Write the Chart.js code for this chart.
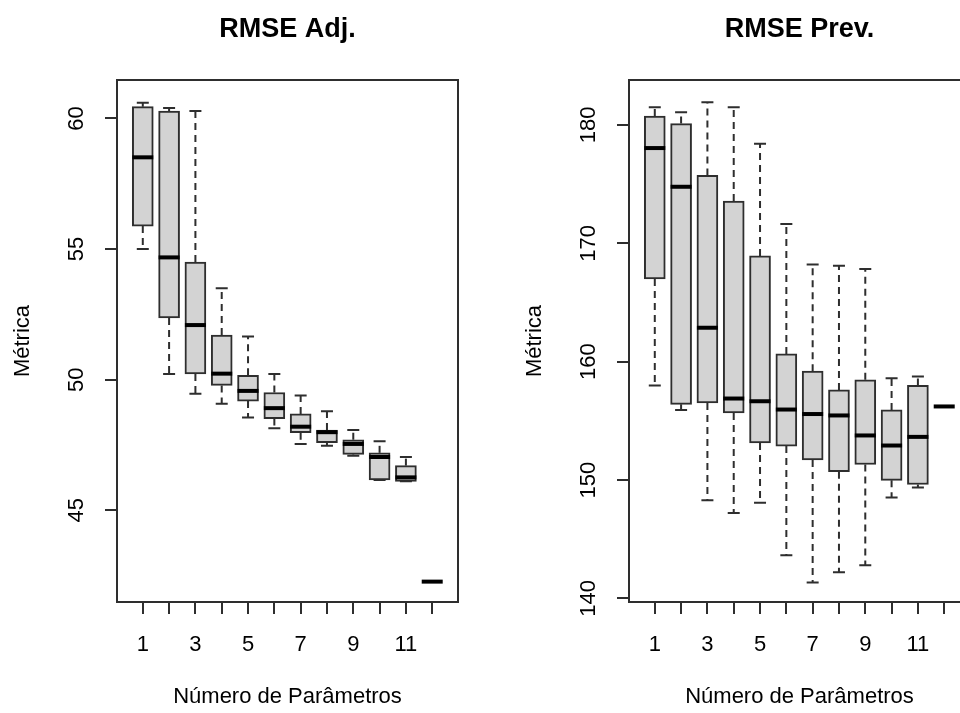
<!DOCTYPE html>
<html>
<head>
<meta charset="utf-8">
<script src="https://cdn.jsdelivr.net/npm/chart.js@4.4.1/dist/chart.umd.min.js"></script>
<style>
  html, body { margin: 0; padding: 0; background: #fff; overflow: hidden; }
  #wrap { position: relative; width: 960px; height: 713px; overflow: hidden; }
  canvas { position: absolute; top: 0; }
</style>
</head>
<body>
<div id="wrap">
  <canvas id="adj" width="512" height="713" style="left:0"></canvas>
  <canvas id="prev" width="512" height="713" style="left:512px"></canvas>
</div>
<script>
// number of parameters (boxes)
const categories = [1, 2, 3, 4, 5, 6, 7, 8, 9, 10, 11, 12];
const xTickLabels = ['1', '', '3', '', '5', '', '7', '', '9', '', '11', ''];

// RMSE Adj.
const adjMin = [55.00, 50.22, 49.46, 49.08, 48.55, 48.14, 47.54, 47.47, 47.09, 46.16, 46.11, 42.27];
const adjQ1  = [55.88, 52.36, 50.22, 49.78, 49.18, 48.51, 47.97, 47.59, 47.14, 46.16, 46.11, 42.27];
const adjMed = [58.51, 54.68, 52.09, 50.23, 49.57, 48.91, 48.20, 47.99, 47.54, 47.04, 46.26, 42.27];
const adjQ3  = [60.45, 60.28, 54.50, 51.71, 50.17, 49.51, 48.69, 48.07, 47.70, 47.20, 46.71, 42.27];
const adjMax = [60.60, 60.40, 60.28, 53.50, 51.65, 50.22, 49.39, 48.79, 48.07, 47.64, 47.04, 42.27];
const adjYTicks = [45, 50, 55, 60];

// RMSE Prev.
const prevMin = [158.00, 155.93, 148.29, 147.21, 148.08, 143.65, 141.34, 142.22, 142.80, 148.52, 149.37, 156.22];
const prevQ1  = [166.99, 156.40, 156.51, 155.67, 153.13, 152.87, 151.70, 150.71, 151.32, 149.98, 149.63, 156.22];
const prevMed = [178.05, 174.78, 162.87, 156.89, 156.66, 155.96, 155.58, 155.46, 153.77, 152.92, 153.65, 156.22];
const prevQ3  = [180.76, 180.12, 175.74, 173.58, 168.94, 160.66, 159.20, 157.62, 158.47, 155.93, 158.00, 156.22];
const prevMax = [181.49, 181.08, 181.93, 181.49, 178.42, 171.63, 168.21, 168.10, 167.83, 158.61, 158.76, 156.22];
const prevYTicks = [140, 150, 160, 170, 180];

const lineColor = '#2e2e2e';
Chart.defaults.font.family = "'Liberation Sans', Arial, sans-serif";
Chart.defaults.color = '#000';

// whiskers, caps, medians and the frame round the plot
const boxExtras = {
  id: 'boxExtras',
  afterDatasetsDraw(chart) {
    const st = chart.data.datasets[0].stats;
    const x = chart.scales.x, y = chart.scales.y, ctx = chart.ctx;
    const boxHalf = 10.5, capHalf = 6;
    ctx.save();
    ctx.strokeStyle = lineColor;
    ctx.lineWidth = 2;
    categories.forEach((c, i) => {
      const px = x.getPixelForValue(c);
      const yMin = y.getPixelForValue(st.min[i]), yMax = y.getPixelForValue(st.max[i]);
      const yQ1 = y.getPixelForValue(st.q1[i]), yQ3 = y.getPixelForValue(st.q3[i]);
      ctx.setLineDash([7, 5]);
      ctx.beginPath();
      ctx.moveTo(px, yQ3); ctx.lineTo(px, yMax);
      ctx.moveTo(px, yQ1); ctx.lineTo(px, yMin);
      ctx.stroke();
      ctx.setLineDash([]);
      if (st.max[i] !== st.min[i]) {
        ctx.beginPath();
        ctx.moveTo(px - capHalf, yMax); ctx.lineTo(px + capHalf, yMax);
        ctx.moveTo(px - capHalf, yMin); ctx.lineTo(px + capHalf, yMin);
        ctx.stroke();
      }
    });
    ctx.strokeStyle = '#000';
    ctx.lineWidth = 4;
    categories.forEach((c, i) => {
      const px = x.getPixelForValue(c);
      const ym = y.getPixelForValue(st.med[i]);
      ctx.beginPath();
      ctx.moveTo(px - boxHalf, ym); ctx.lineTo(px + boxHalf, ym);
      ctx.stroke();
    });
    const a = chart.chartArea;
    ctx.strokeStyle = lineColor;
    ctx.lineWidth = 2;
    ctx.strokeRect(a.left, a.top, a.right - a.left, a.bottom - a.top);
    ctx.restore();
  }
};

function axisGrid() {
  return { drawOnChartArea: false, drawTicks: true, tickLength: 12, lineWidth: 2, color: lineColor, offset: false };
}

function makeChart(id, title, st, yMin, yMax, yTicks, labelPad) {
  return new Chart(document.getElementById(id), {
    type: 'bar',
    data: {
      datasets: [{
        data: categories.map((c, i) => ({ x: c, y: [st.q1[i], st.q3[i]] })),
        stats: st,
        backgroundColor: '#d3d3d3',
        borderColor: lineColor,
        borderWidth: 2,
        borderSkipped: false,
        barThickness: 21
      }]
    },
    options: {
      responsive: false,
      animation: false,
      layout: { padding: { left: 0, right: 54, top: 0, bottom: 0 } },
      plugins: {
        legend: { display: false },
        tooltip: { enabled: false },
        title: {
          display: true, text: title, fullSize: false,
          font: { size: 27, weight: 'bold' }, color: '#000',
          padding: { top: 13, bottom: 34.6 }
        }
      },
      scales: {
        x: {
          type: 'linear', min: 0.02, max: 12.98, offset: false,
          afterBuildTicks: s => { s.ticks = categories.map(v => ({ value: v })); },
          afterFit: s => { s.height = 111; },
          grid: axisGrid(),
          border: { display: false },
          ticks: { autoSkip: false, maxRotation: 0, padding: 18, font: { size: 22 },
                   callback: (v, i) => xTickLabels[i] },
          title: { display: true, text: 'Número de Parâmetros', font: { size: 22 },
                   padding: { top: 0, bottom: 3 } }
        },
        y: {
          min: yMin, max: yMax, beginAtZero: false,
          afterBuildTicks: s => { s.ticks = yTicks.map(v => ({ value: v })); },
          afterFit: s => { s.width = 117; },
          grid: axisGrid(),
          border: { display: false },
          ticks: { minRotation: 90, maxRotation: 90, crossAlign: 'center', padding: labelPad,
                   font: { size: 22 } },
          title: { display: true, text: 'Métrica', font: { size: 22 },
                   padding: { top: 10, bottom: 0 } }
        }
      }
    },
    plugins: [boxExtras]
  });
}

makeChart('adj', 'RMSE Adj.',
  { min: adjMin, q1: adjQ1, med: adjMed, q3: adjQ3, max: adjMax },
  41.49, 61.47, adjYTicks, 16);
makeChart('prev', 'RMSE Prev.',
  { min: prevMin, q1: prevQ1, med: prevMed, q3: prevQ3, max: prevMax },
  139.7, 183.8, prevYTicks, 10);
</script>
</body>
</html>
